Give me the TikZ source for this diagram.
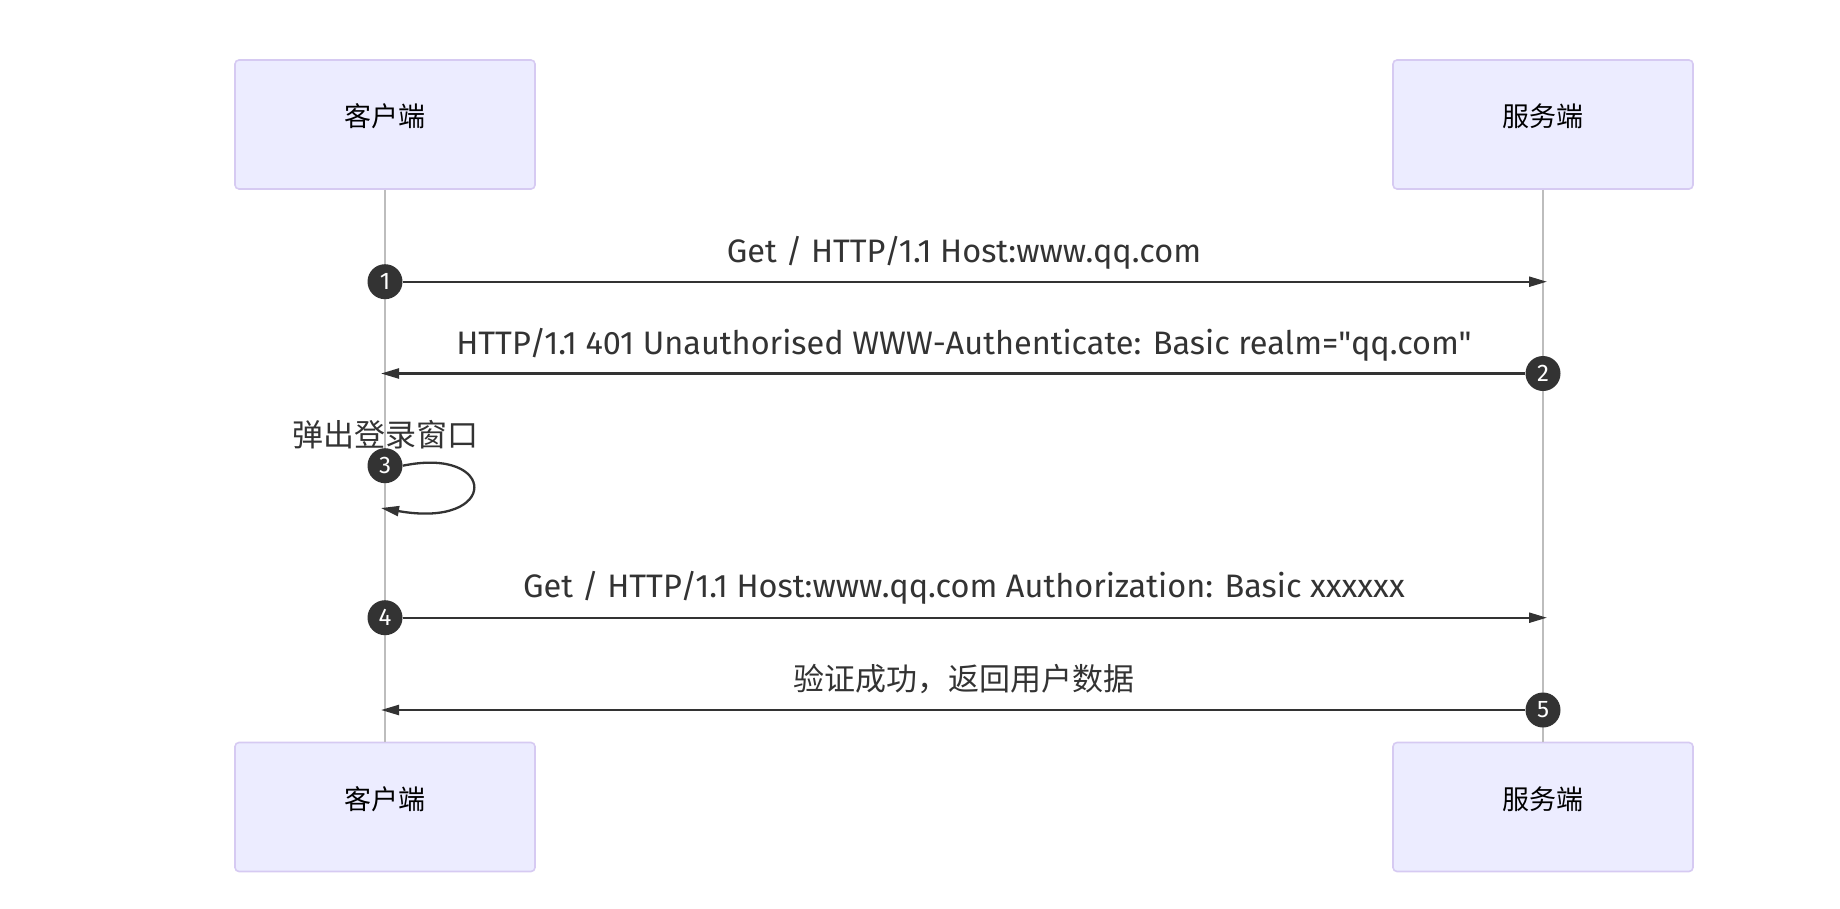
\documentclass[tikz,border=0pt]{standalone}
\usepackage{fontspec}
\setmainfont{Fira Sans}[Ligatures=TeXOff]
\newfontfamily\cjk{Noto Sans CJK SC}
\usetikzlibrary{arrows.meta}
\definecolor{actorfill}{HTML}{ECECFF}
\definecolor{actorline}{HTML}{D6CAF2}
\definecolor{ink}{HTML}{333333}
\definecolor{life}{HTML}{BDBDBD}
\begin{document}
\begin{tikzpicture}[x=1pt,y=-1pt,
  actor/.style={draw=actorline, fill=actorfill, rounded corners=4pt, line width=1.6pt,
    minimum width=300pt, minimum height=129pt, inner sep=0pt},
  actortext/.style={font=\cjk\fontsize{27}{32}\selectfont, text=black, inner sep=0pt},
  lifeline/.style={draw=life, line width=1.4pt},
  num/.style={circle, fill=ink, text=white, minimum size=35pt, inner sep=0pt,
    font=\fontsize{24}{27}\selectfont},
  msg/.style={draw=ink, line width=2.3pt, -{Triangle[length=18pt,width=10pt]}},
  msgtext/.style={font=\fontsize{32.5}{38}\selectfont, text=ink, inner sep=0pt},
  cjktext/.style={font=\cjk\fontsize{31}{36}\selectfont, text=ink, inner sep=0pt}]
\useasboundingbox (0,0) rectangle (1840,908);
% actors
\node[actor] (c1) at (385,124.5) {};
\node[actor] (s1) at (1543,124.5) {};
\node[actor] (c2) at (385,807) {};
\node[actor] (s2) at (1543,807) {};
\node[actortext] (c1t) at (385,116.5) {客户端};
\node[actortext] (s1t) at (1543,116.5) {服务端};
\node[actortext] (c2t) at (385,799) {客户端};
\node[actortext] (s2t) at (1543,799) {服务端};
% lifelines
\draw[lifeline] (c1.south) -- (c2.north);
\draw[lifeline] (s1.south) -- (s2.north);
% step badges
\node[num] (n1) at (385,281.7) {1};
\node[num] (n2) at (1543,373.5) {2};
\node[num] (n3) at (385,465.7) {3};
\node[num] (n4) at (385,617.7) {4};
\node[num] (n5) at (1543,710) {5};
% arrow ends
\coordinate (e1) at (1547,281.7);
\coordinate (e2) at (381,373.5);
\coordinate (e3) at (381,508);
\coordinate (e4) at (1547,617.7);
\coordinate (e5) at (381,710);
% messages
\draw[msg] (n1) -- (e1);
\draw[msg] (n2) -- (e2);
\draw[msg] (n3.east) .. controls (498,446) and (500,529) .. (e3);
\draw[msg] (n4) -- (e4);
\draw[msg] (n5) -- (e5);
% labels
\node[msgtext] (t1) at (964,252.5) {Get / HTTP/1.1 Host:www.qq.com};
\node[msgtext] (t2) at (964,344.5) {HTTP/1.1 401 Unauthorised WWW-Authenticate: Basic realm="qq.com"};
\node[cjktext] (t3) at (385,434.5) {弹出登录窗口};
\node[msgtext] (t4) at (964,588) {Get / HTTP/1.1 Host:www.qq.com Authorization: Basic xxxxxx};
\node[cjktext] (t5) at (964,679) {验证成功，返回用户数据};
\end{tikzpicture}
\end{document}
